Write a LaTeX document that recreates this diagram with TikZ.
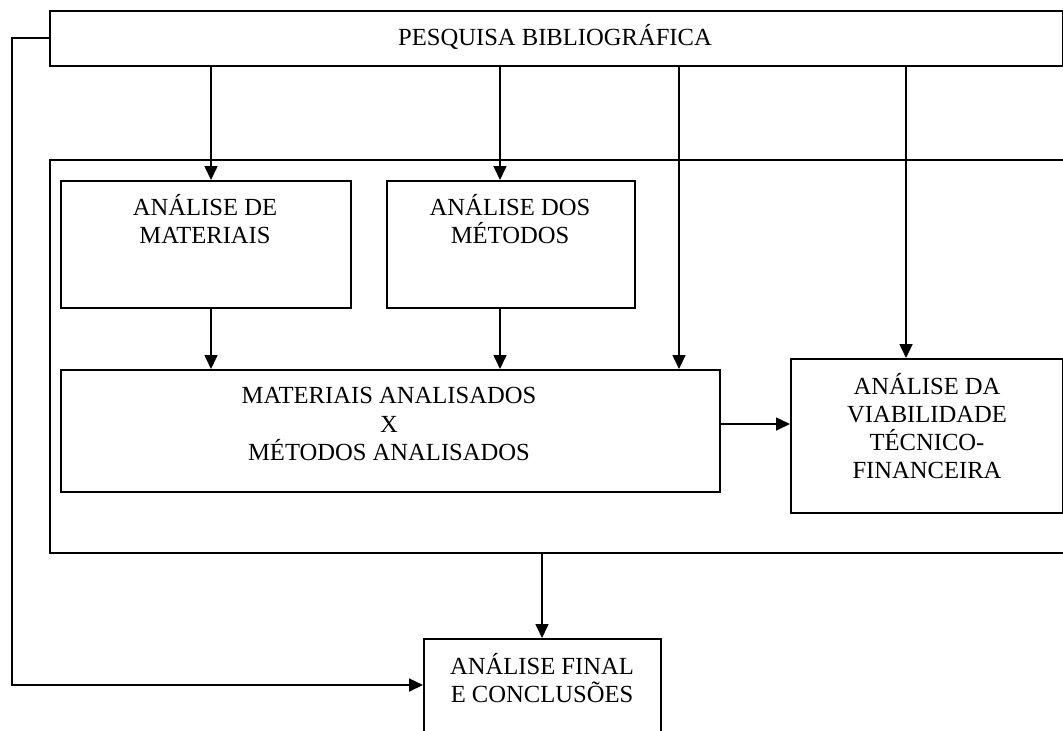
\documentclass[tikz,border=0pt]{standalone}
\usepackage{fontspec}
\setmainfont{Liberation Serif}
\usetikzlibrary{arrows.meta}
\tikzset{
	caixa/.style={draw, line width=0.9pt, inner sep=0pt, anchor=north west},
	texto/.style={align=center, inner sep=0pt, font=\fontsize{12.3}{14.1}\selectfont},
	seta/.style={line width=0.8pt, -{Triangle[length=7pt,width=6.5pt]}},
	linha/.style={line width=0.8pt}
}

\begin{document}
\begin{tikzpicture}[x=0.5pt, y=-0.5pt]
		%%%%% START %%%%%
		\useasboundingbox (0, 0) rectangle (1063, 730);
		\clip (0, 0) rectangle (1063, 730);
		
		\node[caixa, minimum width=506.5pt, minimum height=27.5pt] (pesq) at (49, 10) {};
		\node[texto] (tpesq) at (555, 37) {PESQUISA BIBLIOGRÁFICA};
		
		\node[caixa, minimum width=520pt, minimum height=196.5pt] (bloco) at (49, 159) {};
		
		\node[caixa, minimum width=145pt, minimum height=63.5pt] (mat) at (60, 180) {};
		\node[texto] (tmat) at (205, 219) {ANÁLISE DE\\MATERIAIS};
		
		\node[caixa, minimum width=124pt, minimum height=63.5pt] (met) at (386, 180) {};
		\node[texto] (tmet) at (510, 219) {ANÁLISE DOS\\MÉTODOS};
		
		\node[caixa, minimum width=329.5pt, minimum height=61pt] (matmet) at (60, 369) {};
		\node[texto] (tmatmet) at (389, 424) {MATERIAIS ANALISADOS\\X\\MÉTODOS ANALISADOS};
		
		\node[caixa, minimum width=136pt, minimum height=77pt] (viab) at (790, 358) {};
		\node[texto] (tviab) at (927, 426) {ANÁLISE DA\\VIABILIDADE\\TÉCNICO-\\FINANCEIRA};
		
		\node[caixa, minimum width=118.5pt, minimum height=60pt] (final) at (423, 638) {};
		\node[texto] (tfinal) at (542, 678) {ANÁLISE FINAL\\E CONCLUSÕES};
		
		\coordinate (xa) at (211, 0);
		\coordinate (xb) at (500, 0);
		\coordinate (xc) at (679, 0);
		\coordinate (xd) at (906, 0);
		\coordinate (xe) at (542, 0);
		\coordinate (xf) at (12, 0);
		\coordinate (ya) at (0, 424);
		\coordinate (yb) at (0, 38);
		\coordinate (yc) at (0, 685);
		
		\draw[seta] (pesq.south -| xa) -- (mat.north -| xa);
		\draw[seta] (pesq.south -| xb) -- (met.north -| xb);
		\draw[seta] (pesq.south -| xc) -- (matmet.north -| xc);
		\draw[seta] (pesq.south -| xd) -- (viab.north -| xd);
		
		\draw[seta] (mat.south -| xa) -- (matmet.north -| xa);
		\draw[seta] (met.south -| xb) -- (matmet.north -| xb);
		\draw[seta] (matmet.east |- ya) -- (viab.west |- ya);
		
		\draw[seta] (bloco.south -| xe) -- (final.north -| xe);
		\draw[seta] (pesq.west |- yb) -- (xf |- yb) -- (xf |- yc) -- (final.west |- yc);
		
		%%%%% END %%%%%
	\end{tikzpicture}
\end{document}
